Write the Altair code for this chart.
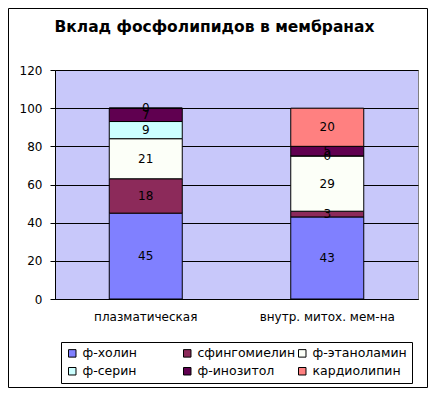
import altair as alt
import pandas as pd

categories = ["плазматическая", "внутр. митох. мем-на"]
series = ["ф-холин", "сфингомиелин", "ф-этаноламин", "ф-серин", "ф-инозитол", "кардиолипин"]
plasma = [45, 18, 21, 9, 7, 0]
mito = [43, 3, 29, 0, 5, 20]
colors = ["#8080FF", "#8C2A5A", "#FCFFF8", "#CCFFFF", "#600050", "#FF8080"]
y_ticks = [0, 20, 40, 60, 80, 100, 120]
title_text = "Вклад фосфолипидов в мембранах"

rows = []
for cat, vals in zip(categories, [plasma, mito]):
    for i, (s, v) in enumerate(zip(series, vals)):
        rows.append({"cat": cat, "series": s, "idx": i, "value": v})
df = pd.DataFrame(rows)

FONT = "DejaVu Sans"
W, H = 363, 229

base = alt.Chart(df).transform_stack(
    stack="value", as_=["y0", "y1"], groupby=["cat"],
    sort=[alt.SortField("idx", order="ascending")]
).transform_calculate(mid="(datum.y0 + datum.y1) / 2")

x_enc = alt.X(
    "cat:N", sort=categories,
    scale=alt.Scale(paddingInner=0, paddingOuter=0),
    axis=alt.Axis(title=None, labelAngle=0, ticks=False, domainColor="black",
                  labelColor="black", labelFont=FONT, labelFontSize=12,
                  labelPadding=12),
)
yscale = alt.Scale(domain=[0, 120], nice=False)
y_axis = alt.Axis(title=None, values=y_ticks, grid=True, gridColor="black",
                  gridOpacity=1, tickSize=5, tickColor="black", labelOverlap=False,
                  domainColor="black", labelColor="black", labelFont=FONT,
                  labelFontSize=12, labelPadding=8)

bars = base.mark_bar(size=73, stroke="black", strokeWidth=1).encode(
    x=x_enc,
    y=alt.Y("y0:Q", scale=yscale, axis=y_axis),
    y2="y1:Q",
    color=alt.Color(
        "series:N", sort=series,
        scale=alt.Scale(domain=series, range=colors),
        legend=alt.Legend(
            title=None, orient="none", legendX=6, legendY=272, columns=3,
            direction="horizontal",
            symbolType="square", symbolSize=56, symbolStrokeColor="black",
            symbolStrokeWidth=1, symbolOpacity=1, labelFont=FONT, labelFontSize=12.5,
            labelColor="black", strokeColor="black", fillColor="white", padding=5,
            columnPadding=0, rowPadding=5, gridAlign="all", labelOffset=4,
        ),
    ),
    order=alt.Order("idx:Q"),
)

labels = base.mark_text(font=FONT, fontSize=12, color="black").encode(
    x=alt.X("cat:N", sort=categories),
    y=alt.Y("mid:Q", scale=yscale, axis=y_axis),
    text="value:Q",
)

frame_data = alt.Data(values=[{"t": title_text}])

border = alt.Chart(frame_data).mark_rect(
    fill=None, stroke="black", strokeWidth=1
).encode(
    x=alt.value(-46.5), x2=alt.value(372.5), y=alt.value(-61.5), y2=alt.value(317.5)
)

title = alt.Chart(frame_data).mark_text(
    font=FONT, fontSize=15.5, fontWeight="bold", color="black",
    align="center", baseline="alphabetic"
).encode(x=alt.value(159.5), y=alt.value(-38), text="t:N")

chart = alt.layer(bars, labels, border, title).properties(
    width=W, height=H,
    autosize=alt.AutoSizeParams(type="none"),
    padding={"left": 47, "top": 62, "right": 10, "bottom": 89},
    background="white",
).configure_view(fill="#C8C8FA", stroke="#808080", strokeWidth=1)

chart.save("out.html", embed_options={"renderer": "svg", "actions": False})
